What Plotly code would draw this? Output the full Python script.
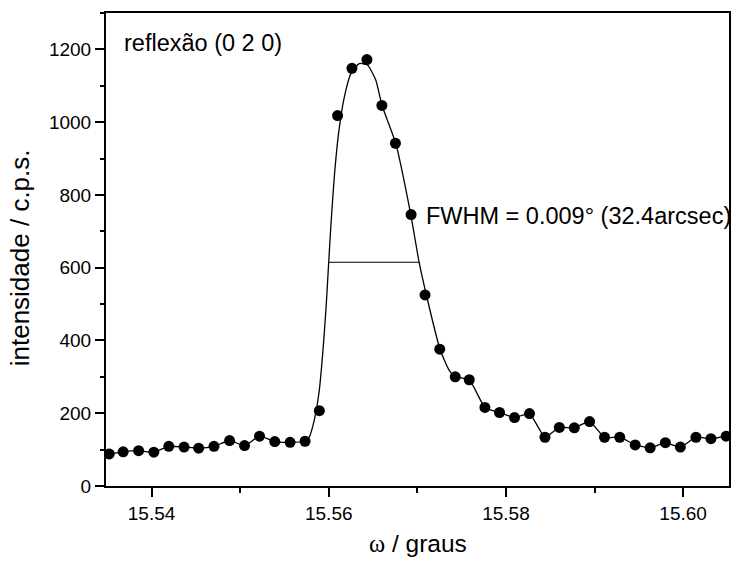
import plotly.graph_objects as go

# measured points (omega in degrees, intensity in c.p.s.)
omega = [15.53523, 15.53680, 15.53854, 15.54026, 15.54195, 15.54367, 15.54532,
         15.54705, 15.54881, 15.55050, 15.55219, 15.55391, 15.55564, 15.55733,
         15.55894, 15.56100, 15.56262, 15.56431, 15.56600, 15.56753, 15.56930,
         15.57087, 15.57253, 15.57428, 15.57586, 15.57763, 15.57928, 15.58097,
         15.58266, 15.58441, 15.58603, 15.58772, 15.58944, 15.59113, 15.59285,
         15.59459, 15.59628, 15.59800, 15.59969, 15.60145, 15.60314, 15.60486]
intensity = [88, 94, 97, 93, 109, 107, 104, 109, 125, 111, 137, 122, 120, 123,
             207, 1018, 1148, 1172, 1046, 942, 746, 525, 376, 300, 292, 216,
             202, 188, 199, 134, 161, 160, 177, 134, 134, 113, 105, 119, 107,
             134, 130, 137]

# fitted curve
fit_x = [15.53523, 15.53680, 15.53854, 15.54026, 15.54195, 15.54367, 15.54532,
         15.54705, 15.54881, 15.55050, 15.55219, 15.55391, 15.55564, 15.55733,
         15.55782, 15.55819, 15.55857, 15.55894, 15.55934, 15.55970, 15.55999,
         15.56026, 15.56063, 15.56111, 15.56176, 15.56251, 15.56344, 15.56438,
         15.56532, 15.56600, 15.56757, 15.56926, 15.57020, 15.57102, 15.57256,
         15.57357, 15.57428, 15.57586, 15.57763, 15.57928, 15.58097, 15.58266,
         15.58441, 15.58603, 15.58772, 15.58944, 15.59113, 15.59285, 15.59459,
         15.59628, 15.59800, 15.59969, 15.60145, 15.60314, 15.60486]
fit_y = [88, 94, 97, 93, 109, 107, 104, 109, 125, 111, 137, 122, 120, 123,
         135, 163, 205, 264, 370, 490, 612, 722, 850, 969, 1069, 1134, 1161,
         1157, 1115, 1047, 941, 746, 615, 525, 376, 319, 300, 292, 216, 202,
         188, 199, 134, 161, 160, 177, 134, 134, 113, 105, 119, 107, 134, 130,
         137]

# FWHM marker line
fwhm_x = [15.55999, 15.57020]
fwhm_y = [615, 615]

x_range = [15.53486, 15.60518]
y_range = [0, 1300]

FONT = "Liberation Sans, Arial, sans-serif"

fig = go.Figure()
fig.add_trace(go.Scatter(x=fit_x, y=fit_y, mode="lines",
                         line=dict(color="black", width=1.3, shape="spline", smoothing=0.5),
                         hoverinfo="skip", showlegend=False))
fig.add_trace(go.Scatter(x=fwhm_x, y=fwhm_y, mode="lines",
                         line=dict(color="black", width=1.1),
                         hoverinfo="skip", showlegend=False))
fig.add_trace(go.Scatter(x=omega, y=intensity, mode="markers",
                         marker=dict(color="black", size=11, line=dict(width=0)),
                         showlegend=False))

axis_common = dict(showgrid=False, zeroline=False, showline=True, linecolor="black",
                   linewidth=2, mirror=True, ticks="outside", ticklen=9, tickwidth=1.5,
                   tickcolor="black", tickfont=dict(family=FONT, size=19, color="black"))

fig.update_xaxes(range=x_range, tick0=15.54, dtick=0.02, tickformat=".2f",
                 minor=dict(dtick=0.01, ticks="outside", ticklen=5, tickwidth=1.5,
                            tickcolor="black"),
                 **axis_common)
fig.update_yaxes(range=y_range, tick0=0, dtick=200,
                 minor=dict(dtick=100, ticks="outside", ticklen=4, tickwidth=1.5,
                            tickcolor="black"),
                 **axis_common)

fig.update_layout(
    width=732, height=562,
    margin=dict(l=106, r=1, t=13, b=76),
    plot_bgcolor="white", paper_bgcolor="white",
    font=dict(family=FONT, color="black"),
    annotations=[
        dict(text="reflexão (0 2 0)", xref="paper", yref="paper", x=0.026, y=0.936,
             xanchor="left", yanchor="middle", showarrow=False,
             font=dict(family=FONT, size=23.5, color="black")),
        dict(text="FWHM = 0.009° (32.4arcsec)", xref="x", yref="y", x=15.57080, y=742,
             xanchor="left", yanchor="middle", showarrow=False,
             font=dict(family=FONT, size=23.5, color="black")),
        dict(text="<span style='font-family:Liberation Serif, Times New Roman, serif'>ω</span> / graus",
             xref="paper", yref="paper", x=0.5, y=-0.122,
             xanchor="center", yanchor="middle", showarrow=False,
             font=dict(family=FONT, size=24.5, color="black")),
        dict(text="intensidade / c.p.s.", xref="paper", yref="paper", x=-0.1376, y=0.482,
             xanchor="center", yanchor="middle", textangle=-90, showarrow=False,
             font=dict(family=FONT, size=26, color="black")),
    ],
)

fig.write_html("out.html")
